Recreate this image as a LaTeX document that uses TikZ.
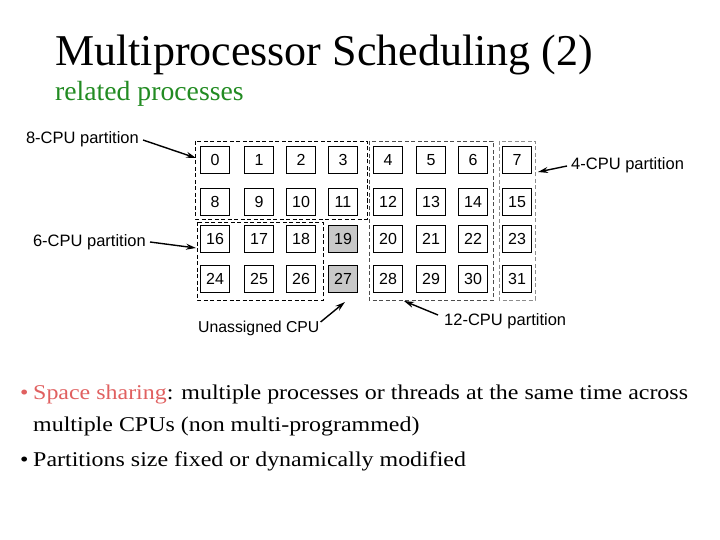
\documentclass[tikz,border=0pt]{standalone}
\usepackage{fontspec}
\setmainfont{Liberation Serif}
\newfontfamily\diafont{Liberation Sans}
\newfontfamily\bulletfont[FakeStretch=1.14]{Liberation Serif}
\usetikzlibrary{arrows.meta}
\definecolor{titlegreen}{RGB}{34,139,34}
\definecolor{sred}{RGB}{224,96,96}
\definecolor{cpugray}{RGB}{200,200,200}
\tikzset{
  cpu/.style={draw, line width=1.2pt, minimum width=29pt, minimum height=27pt, inner sep=0pt, font=\diafont\fontsize{16}{16}\selectfont},
  cpuu/.style={cpu, fill=cpugray},
  part/.style={draw, line width=0.9pt, dash pattern=on 4pt off 2.5pt},
  partd/.style={part, draw=black!70},
  partg/.style={part, draw=black!45},
  lbl/.style={font=\diafont\fontsize{16.5}{16.5}\selectfont, inner sep=0pt},
  arr/.style={-{Stealth[length=10pt,width=6pt]}, line width=1.4pt},
  btext/.style={anchor=base west, inner sep=0pt, font=\bulletfont\fontsize{21}{21}\selectfont}
}
\begin{document}
\begin{tikzpicture}[x=1pt,y=-1pt]
\useasboundingbox (0,0) rectangle (720,540);
% title
\node[anchor=base west, inner sep=0pt, font=\fontsize{44}{44}\selectfont] (title) at (55,66) {Multiprocessor Scheduling (2)};
\node[anchor=base west, inner sep=0pt, font=\fontsize{27.7}{27.7}\selectfont, text=titlegreen] (sub) at (55,101) {related processes};
% CPUs
\foreach \n/\x/\y in {0/215/160,1/259/160,2/301/160,3/343/160,4/388/160,5/431/160,6/473/160,7/517/160,
  8/215/202,9/259/202,10/301/202,11/343/202,12/388/202,13/431/202,14/473/202,15/517/202,
  16/215/239,17/259/239,18/301/239,20/388/239,21/431/239,22/473/239,23/517/239,
  24/215/279,25/259/279,26/301/279,28/388/279,29/431/279,30/473/279,31/517/279}
  \node[cpu] (c\n) at (\x,\y) {\n};
\node[cpuu] (c19) at (343,239) {19};
\node[cpuu] (c27) at (343,279) {27};
% partitions
\draw[part] (195,141) rectangle (367,219);
\coordinate (p8) at (196,158);
\draw[part] (197,222) rectangle (323,300);
\coordinate (p6) at (196,248);
\draw[partd] (369,141) rectangle (493,300);
\coordinate (p12) at (404,301);
\draw[partg] (499,141) rectangle (535,300);
\coordinate (p4) at (538,172);
\coordinate (pu) at (345,302);
% labels
\node[lbl, anchor=east] (l8) at (139,139) {8-CPU partition};
\node[lbl, anchor=east] (l6) at (146,242) {6-CPU partition};
\node[lbl, anchor=west] (l4) at (571,165) {4-CPU partition};
\node[lbl, anchor=west, font=\diafont\fontsize{15.8}{15.8}\selectfont] (lu) at (198,328) {Unassigned CPU};
\node[lbl, anchor=west] (l12) at (444,321) {12-CPU partition};
\draw[arr] (l8.east) ++(4,1) -- (p8);
\draw[arr] (l6.east) ++(4,0) -- (p6);
\draw[arr] (l4.west) ++(-4,1) -- (p4);
\draw[arr] (lu.east) ++(1,-6) -- (pu);
\draw[arr] (l12.west) ++(-6,-6) -- (p12);
% bullets
\node[btext, text=sred] (b1) at (20,399) {\textbullet};
\node[btext] (t1) at (33,399) {\textcolor{sred}{Space sharing}: multiple processes or threads at the same time across};
\node[btext] (t2) at (33,431) {multiple CPUs (non multi-programmed)};
\node[btext] (b2) at (20,466) {\textbullet};
\node[btext] (t3) at (33,466) {Partitions size fixed or dynamically modified};
\end{tikzpicture}
\end{document}
